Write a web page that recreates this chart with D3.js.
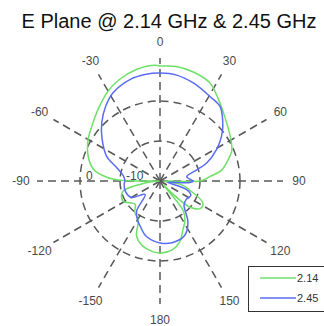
<!DOCTYPE html>
<html>
<head>
<meta charset="utf-8">
<script src="https://cdn.jsdelivr.net/npm/d3@7"></script>
<style>
  html, body { margin: 0; padding: 0; background: #fff; }
  svg { display: block; font-family: "Liberation Sans", Arial, sans-serif; }
</style>
</head>
<body>
<div id="chart"></div>
<script>
// angles in degrees (0 = top, clockwise), gain in dB
const ang214 = [0, 8, 17, 27, 36, 45, 58, 67, 73, 80, 85, 90, 93, 100, 107, 117, 124, 131, 135, 139,
  142, 148, 155, 162, 170, 179, 186, 196, 203, 209, 219, 227, 241, 250, 255, 262, 266, 269,
  271, 274, 280, 289, 300, 309, 319, 330, 338, 348, 357];
const gain214 = [8.75, 8.9, 8.5, 7.5, 5, 2.85, 0.75, -0.5, -2.25, -4.35, -7.5, -10, -19, -14.5, -12.25, -8, -7.75, -10, -15, -18.75,
  -10.5, -8.25, -6.5, -4, -2.5, -2, -2.25, -3.35, -5, -8.75, -10, -11.5, -9.5, -9.75, -10.5, -16.25, -19.25, -19.9,
  -10, -6.65, -3.1, -1, 0.75, 1.9, 3.65, 5.95, 7.3, 8.5, 9];

const ang245 = [0, 9, 19, 31, 39, 49, 54, 61, 69, 73, 81, 90, 93, 96, 100, 108, 115, 125, 135,
  146, 156, 168, 180, 194, 204, 210, 218, 228, 240, 252, 265, 270, 278, 287, 295, 306, 315, 324, 332, 344, 352];
const gain245 = [7, 6.8, 5.85, 4.5, 3.9, 0.8, -1, -3.85, -7.5, -10.4, -13.25, -11.75, -12.5, -17, -18, -13, -11.5, -12, -11.5,
  -7.5, -5, -4.3, -4.5, -5.75, -7.75, -8.75, -10.5, -15, -11.75, -11, -11, -11.25, -10.75, -8.7, -5.25, -2.1, 0.6, 3.1, 5, 6.5, 6.9];

const seriesNames = ['2.14', '2.45'];
const seriesColors = ['#6ee068', '#5a6cf4'];
const angleTicks = [0, 30, 60, 90, 120, 150, 180, -150, -120, -90, -60, -30];
const ringTicks = [-10, 0];
const gainDomain = [-20, 10.75];
const titleText = 'E Plane @ 2.14 GHz & 2.45 GHz';

const W = 324, H = 326;
const cx = 160, cy = 181;

const svg = d3.select('#chart').append('svg')
  .attr('width', W)
  .attr('height', H);

svg.append('text')
  .attr('x', 169)
  .attr('y', 28)
  .attr('text-anchor', 'middle')
  .attr('font-size', 20)
  .attr('fill', '#111')
  .text(titleText);

const g = svg.append('g').attr('transform', `translate(${cx},${cy})`);

const r = d3.scaleLinear().domain(gainDomain).range([0, 123]);
const rMax = r(gainDomain[1]);
const rad = d => d * Math.PI / 180;

const grid = g.append('g')
  .attr('fill', 'none')
  .attr('stroke', '#585858')
  .attr('stroke-width', 1.5)
  .attr('stroke-dasharray', '8,5');

// rings
grid.selectAll('circle')
  .data(ringTicks)
  .enter()
  .append('circle')
  .attr('r', d => r(d));

// spokes
grid.selectAll('line')
  .data(angleTicks)
  .enter()
  .append('line')
  .attr('x1', 0)
  .attr('y1', 0)
  .attr('x2', d => rMax * Math.sin(rad(d)))
  .attr('y2', d => -rMax * Math.cos(rad(d)));

// angle labels
g.selectAll('.ang-label')
  .data(angleTicks)
  .enter()
  .append('text')
  .attr('class', 'ang-label')
  .attr('x', d => 139 * Math.sin(rad(d)))
  .attr('y', d => -139 * Math.cos(rad(d)))
  .attr('text-anchor', 'middle')
  .attr('dominant-baseline', 'central')
  .attr('font-size', 12)
  .attr('fill', '#4a4a4a')
  .text(d => d);

// ring labels
g.selectAll('.ring-label')
  .data(ringTicks)
  .enter()
  .append('text')
  .attr('class', 'ring-label')
  .attr('x', d => -r(d) + 6)
  .attr('y', -1)
  .attr('font-size', 12)
  .attr('fill', '#4a4a4a')
  .text(d => d);

// patterns
const line = d3.lineRadial()
  .angle(d => rad(d[0]))
  .radius(d => r(d[1]))
  .curve(d3.curveCatmullRomClosed.alpha(0.5));

const series = [
  d3.zip(ang214, gain214),
  d3.zip(ang245, gain245)
];

g.selectAll('.pattern')
  .data(series)
  .enter()
  .append('path')
  .attr('class', 'pattern')
  .attr('fill', 'none')
  .attr('stroke', (d, i) => seriesColors[i])
  .attr('stroke-width', 1.5)
  .attr('d', line);

// legend
const legend = svg.append('g').attr('transform', 'translate(248,266)');
legend.append('rect')
  .attr('x', 0.5)
  .attr('y', 0.5)
  .attr('width', 84)
  .attr('height', 45)
  .attr('fill', '#fff')
  .attr('stroke', '#333')
  .attr('stroke-width', 1);

const item = legend.selectAll('.item')
  .data(seriesNames)
  .enter()
  .append('g')
  .attr('transform', (d, i) => `translate(0,${12 + i * 20})`);

item.append('line')
  .attr('x1', 12)
  .attr('x2', 48)
  .attr('stroke', (d, i) => seriesColors[i])
  .attr('stroke-width', 1.5);

item.append('text')
  .attr('x', 49)
  .attr('dominant-baseline', 'central')
  .attr('font-size', 11)
  .attr('fill', '#333')
  .text(d => d);
</script>
</body>
</html>
